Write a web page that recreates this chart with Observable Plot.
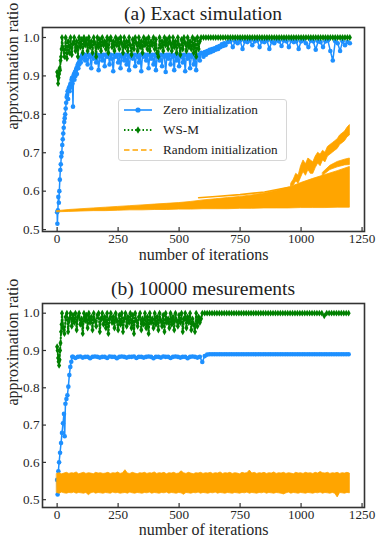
<!DOCTYPE html>
<html><head><meta charset="utf-8">
<script src="https://cdn.jsdelivr.net/npm/d3@7"></script>
<script src="https://cdn.jsdelivr.net/npm/@observablehq/plot@0.6"></script>
<style>
body{margin:0;background:#fff;font-family:"Liberation Serif",serif;}
#wrap{position:relative;width:381px;height:545px;overflow:hidden;background:#fff;}
.title{position:absolute;left:42px;width:322px;text-align:center;font-size:19.5px;color:#222;line-height:1;white-space:nowrap;}
.panel{position:absolute;left:0;}
.legend{position:absolute;left:118px;top:99px;width:167px;height:60px;border:1px solid #d6d6d6;border-radius:3px;background:rgba(255,255,255,0.85);font-size:13.2px;color:#222;}
.legend .row{position:absolute;left:4px;height:14px;display:flex;align-items:center;white-space:nowrap;}
.legend svg{margin-right:10px;}
</style></head><body>
<div id="wrap">
  <div class="title" style="top:4px">(a) Exact simulation</div>
  <div class="panel" id="pa" style="top:26px"></div>
  <div class="title" style="top:279px">(b) 10000 mesurements</div>
  <div class="panel" id="pb" style="top:302px"></div>
  <div class="legend" id="legend"></div>
</div>
<script>
// ---------- labels ----------
const seriesNames = ["Zero initialization", "WS-M", "Random initialization"];
const xTicks = [0, 250, 500, 750, 1000, 1250];
const yTicks = [0.5, 0.6, 0.7, 0.8, 0.9, 1.0];

// ---------- (a) Exact simulation ----------
const zeroA_ramp = [[0,.545],[1,.515],[3,.55],[5,.585],[7,.57],[9,.60],[11,.63],[13,.655],[15,.67],[17,.69],[19,.70],[21,.72],[23,.735],[25,.75],[27,.765],[29,.78],[31,.79],[33,.80],[35,.815],[37,.83],[39,.845],[41,.85],[43,.86],[45,.84],[47,.865],[49,.87],[51,.86],[53,.875],[55,.88],[57,.87],[59,.89],[61,.895],[63,.88],[65,.82],[67,.90],[69,.905],[71,.89],[73,.91],[75,.90],[77,.915],[79,.92],[81,.905],[83,.925],[85,.93],[87,.92],[89,.935],[91,.93],[93,.94],[95,.945],[97,.935],[99,.95],[101,.945],[103,.955]];
const zeroA_flat = [ // iterations 105..590, every 5
 .95,.955,.94,.955,.93,.955,.95,.92,.955,.945,
 .955,.935,.955,.915,.95,.955,.94,.955,.925,.955,
 .95,.955,.93,.955,.945,.912,.955,.95,.955,.935,
 .955,.92,.95,.955,.94,.955,.93,.955,.915,.95,
 .955,.945,.955,.925,.955,.95,.935,.955,.912,.955,
 .95,.955,.94,.955,.92,.955,.945,.955,.93,.955,
 .915,.95,.955,.94,.955,.925,.955,.95,.91,.955,
 .945,.955,.93,.955,.95,.915,.955,.94,.955,.925,
 .955,.95,.935,.955,.912,.955,.945,.955,.92,.95,
 .955,.93,.955,.915,.95,.955,.94,.96];
const zeroA_rise = [.958,.95,.962,.955,.965,.96,.968,.962,.97,.965,.972,.968,.975,.97,.978,.975,.982,.978,.985,.98]; // 595..690, every 5
const zeroA_tail = [ // 700..1200, every 10
 .988,.99,.975,.99,.985,.992,.97,.99,.988,.992,
 .98,.99,.992,.975,.99,.988,.992,.97,.99,.985,
 .992,.99,.978,.992,.99,.975,.992,.988,.99,.97,
 .99,.992,.985,.975,.992,.99,.968,.99,.988,.975,
 .99,.992,.965,.94,.99,.985,.965,.99,.98,.988,.985];

const wsA_ramp = [[0,.91],[2,.90],[4,.88],[6,.895],[8,.905],[10,.92],[12,.915],[14,.94],[16,.95],[18,.97]];
const wsA_osc = [ // 20..590, every 5
 1.0,.97,.95,1.0,.945,.99,.96,1.0,.955,.985,
 1.0,.965,.99,.95,1.0,.975,.995,.96,1.0,.98,
 .995,.965,1.0,.975,.99,.96,1.0,.985,.95,1.0,
 .975,.995,.965,1.0,.98,.99,.97,1.0,.96,.995,
 1.0,.975,.99,.965,1.0,.98,.995,.97,1.0,.985,
 .96,1.0,.975,.99,.965,1.0,.98,.955,.995,.97,
 1.0,.985,.965,1.0,.975,.99,.96,1.0,.98,.995,
 .97,1.0,.965,.99,.98,1.0,.97,.995,.96,.95,
 1.0,.975,.99,.965,1.0,.98,.995,.97,1.0,.985,
 .965,1.0,.975,.99,.96,1.0,.98,.955,.995,.97,
 1.0,.985,.965,1.0,.975,.99,.97,1.0,.96,.995,
 .95,1.0,.97,.99,1.0];
const wsA_tail = [ // 600..1200, every 10
 1,1,1,1,1,1,1,1,1,1, 1,1,1,1,1,1,1,1,1,1, 1,1,1,1,1,1,1,1,1,1,
 1,1,1,1,1,1,1,1,1,1, 1,1,1,1,1,1,1,1,1,1, 1,1,1,1,1,1,1,1,1,1, 1];

const randA_it = [0,50,100,150,200,250,300,350,400,450,500,550,600,650,700,750,800,850,900,950,1000,1050,1100,1150,1200];
const randA_lo = [.545,.546,.547,.548,.548,.549,.55,.55,.551,.551,.552,.552,.553,.553,.553,.554,.554,.555,.555,.555,.556,.556,.556,.557,.557];
const randA_hi = [.548,.551,.553,.555,.557,.559,.561,.563,.565,.567,.569,.572,.576,.579,.582,.585,.589,.594,.601,.609,.621,.632,.642,.652,.663];
const randA_upper_it = [580,650,750,850,950];
const randA_upper = [.583,.586,.591,.598,.61];
const randA_spike_it = [960,970,980,990,1000,1010,1020,1030,1040,1050,1060,1070,1080,1090,1100,1110,1120,1130,1140,1150,1160,1170,1180,1190,1200];
const randA_spike_hi = [.62,.63,.645,.64,.665,.68,.67,.685,.68,.675,.69,.70,.695,.705,.70,.715,.72,.725,.73,.735,.745,.75,.755,.765,.772];
const randA_spike_lo = [.612,.615,.625,.62,.635,.65,.64,.655,.645,.645,.66,.672,.665,.68,.675,.69,.695,.70,.705,.71,.72,.725,.73,.74,.745];
const randA_second_it = [1090,1120,1150,1180,1200];
const randA_second_lo = [.64,.655,.662,.667,.668];
const randA_second_hi = [.648,.666,.676,.682,.685];

// ---------- (b) 10000 measurements ----------
const zeroB_ramp = [[0,.553],[2,.514],[5,.576],[8,.60],[12,.626],[16,.652],[20,.679],[24,.705],[28,.73],[31,.67],[34,.757],[38,.77],[42,.78],[46,.803],[50,.834],[54,.856],[58,.87],[62,.883]];
const zeroB_flat = [ // 65..595, every 10
 .883,.88,.883,.884,.881,.883,.883,.879,.883,.884,
 .883,.881,.883,.883,.88,.884,.883,.883,.879,.883,
 .884,.883,.881,.883,.883,.884,.88,.883,.883,.881,
 .883,.884,.883,.879,.883,.883,.881,.884,.883,.883,
 .88,.883,.884,.883,.881,.883,.883,.879,.883,.884,
 .883,.881,.883,.869];
const zeroB_tail = [ // 605..1195, every 10
 .885,.889,.89,.89,.89,.89,.89,.89,.89,.89,
 .89,.89,.89,.89,.89,.89,.89,.89,.89,.89,
 .89,.89,.89,.89,.89,.89,.89,.89,.89,.89,
 .89,.89,.89,.89,.89,.89,.89,.89,.89,.89,
 .89,.89,.89,.89,.89,.89,.89,.89,.89,.89,
 .89,.89,.89,.89,.89,.89,.89,.89,.89,.89];

const wsB_ramp = [[0,.91],[2,.90],[4,.88],[6,.87],[8,.86],[10,.875],[12,.90],[14,.92],[16,.95],[18,.97]];
const wsB_osc = [ // 20..595, every 5
 1.0,.96,.945,.99,1.0,.95,.985,1.0,.965,.995,
 .975,1.0,.955,.99,1.0,.97,.985,.945,1.0,.98,
 .995,.96,1.0,.975,.99,.955,1.0,.98,.965,.995,
 1.0,.95,.985,1.0,.97,.99,.96,1.0,.945,.985,
 1.0,.975,.99,.96,1.0,.98,.955,.995,.97,1.0,
 .95,.985,1.0,.965,.99,.975,1.0,.96,.995,.945,
 1.0,.98,.965,.99,1.0,.955,.985,.97,1.0,.96,
 .99,.945,1.0,.975,.985,.96,1.0,.97,.99,.955,
 1.0,.98,.965,.995,.95,1.0,.975,.985,.96,1.0,
 .97,.99,.955,1.0,.98,.965,.995,.975,1.0,.95,
 .985,1.0,.96,.99,.975,1.0,.955,.985,.97,.95,
 1.0,.965,.99,.975,.985,1.0];
const wsB_tail = [ // 605..1195, every 10
 1,1,1,1,1,1,1,1,1,1, 1,1,1,1,1,1,1,1,1,1, 1,1,1,1,1,1,1,1,1,1,
 1,1,1,1,1,1,1,1,1,1, 1,1,1,1,1,1,1,1,1,.993, 1,1,1,1,1,1,1,1,1,1];

const randB_it = [0,10,20,30,40,50,60,70,80,90,100,110,120,130,140,150,160,170,180,190,200,210,220,230,240,250,260,270,280,290,300,310,320,330,340,350,360,370,380,390,400,410,420,430,440,450,460,470,480,490,500,510,520,530,540,550,560,570,580,590,600,610,620,630,640,650,660,670,680,690,700,710,720,730,740,750,760,770,780,790,800,810,820,830,840,850,860,870,880,890,900,910,920,930,940,950,960,970,980,990,1000,1010,1020,1030,1040,1050,1060,1070,1080,1090,1100,1110,1120,1130,1140,1150,1160,1170,1180,1190,1200];
const randB_hi = [
 .569,.571,.568,.57,.572,.569,.571,.57,.573,.568, .57,.572,.569,.571,.57,.568,.572,.57,.571,.569,
 .57,.572,.569,.571,.57,.573,.569,.571,.579,.57, .569,.572,.57,.568,.571,.57,.572,.569,.571,.57,
 .573,.569,.571,.57,.572,.568,.571,.57,.572,.569, .57,.576,.571,.569,.572,.57,.568,.571,.57,.572,
 .569,.571,.57,.572,.569,.571,.57,.573,.569,.571, .57,.572,.569,.571,.57,.568,.572,.57,.571,.578,
 .57,.572,.569,.571,.57,.572,.569,.571,.57,.573, .569,.571,.57,.572,.569,.571,.57,.568,.572,.57,
 .571,.569,.572,.57,.571,.569,.572,.57,.574,.571, .57,.572,.569,.571,.57,.572,.569,.571,.57,.572,.57];
const randB_lo = [
 .518,.516,.519,.517,.516,.518,.517,.519,.516,.518, .517,.516,.518,.512,.517,.519,.516,.518,.517,.516,
 .518,.517,.516,.519,.517,.518,.516,.517,.518,.516, .519,.517,.516,.518,.517,.516,.518,.517,.519,.516,
 .518,.517,.516,.518,.517,.519,.516,.518,.517,.516, .518,.517,.513,.518,.517,.516,.518,.517,.519,.516,
 .518,.517,.516,.518,.517,.519,.516,.518,.517,.516, .518,.517,.516,.518,.517,.516,.518,.517,.519,.516,
 .518,.517,.516,.518,.517,.519,.516,.518,.517,.516, .518,.517,.516,.514,.517,.519,.516,.518,.517,.516,
 .518,.517,.516,.518,.517,.516,.518,.517,.519,.516, .518,.517,.516,.518,.516,.506,.518,.517,.516,.518,.517];

// ---------- build tables ----------
const BLUE = "#1e90ff", GREEN = "#008000", ORANGE = "#ffa500", INK = "#262626";
const FONT = "'Liberation Serif',serif";
const pairs = list => list.map(([it, v]) => ({it, v}));
const run = (start, step, vals) => vals.map((v, i) => ({it: start + i * step, v}));
const band = (its, lo, hi) => its.map((it, i) => ({it, lo: lo[i], hi: hi[i]}));

const zeroA = [...pairs(zeroA_ramp), ...run(105, 5, zeroA_flat), ...run(595, 5, zeroA_rise), ...run(700, 10, zeroA_tail)];
const wsA = [...pairs(wsA_ramp), ...run(20, 5, wsA_osc), ...run(600, 10, wsA_tail)];
const zeroB = [...pairs(zeroB_ramp), ...run(65, 10, zeroB_flat), ...run(605, 10, zeroB_tail)];
const wsB = [...pairs(wsB_ramp), ...run(20, 5, wsB_osc), ...run(605, 10, wsB_tail)];

const thinDiamond = {draw(ctx, size) { const h = Math.sqrt(size) * 0.8, w = h * 0.6;
  ctx.moveTo(0, -h); ctx.lineTo(w, 0); ctx.lineTo(0, h); ctx.lineTo(-w, 0); ctx.closePath(); }};

function panel({zero, ws, bands, lines, yDomain, xLabelDy}) {
  return Plot.plot({
    width: 381, height: 242,
    marginLeft: 42, marginRight: 17, marginTop: 1, marginBottom: 37,
    style: {fontFamily: FONT, fontSize: "13.2px", color: INK, background: "transparent", overflow: "visible"},
    x: {domain: [-60, 1260], ticks: xTicks},
    y: {domain: yDomain, ticks: yTicks},
    marks: [
      Plot.line(zero, {x: "it", y: "v", stroke: BLUE, strokeWidth: 1.5}),
      Plot.dot(zero, {x: "it", y: "v", r: 2.3, fill: BLUE, stroke: "none"}),
      Plot.line(ws, {x: "it", y: "v", stroke: GREEN, strokeWidth: 2, strokeDasharray: "1.5,2"}),
      Plot.dot(ws, {x: "it", y: "v", r: 2.4, symbol: thinDiamond, fill: GREEN, stroke: "none"}),
      ...bands.map(b => Plot.areaY(b, {x: "it", y1: "lo", y2: "hi", fill: ORANGE, stroke: ORANGE, strokeWidth: 0.8})),
      ...lines.map(l => Plot.line(l, {x: "it", y: "v", stroke: ORANGE, strokeWidth: 1.6})),
      Plot.frame({stroke: "#333", strokeWidth: 1.6}),
      Plot.axisX({ticks: xTicks, tickSize: -4, tickPadding: 6, tickFormat: "d", label: null, stroke: "#333", strokeWidth: 1.2}),
      Plot.axisY({ticks: yTicks, tickSize: -4, tickPadding: 7, tickFormat: ".1f", label: null, stroke: "#333", strokeWidth: 1.2}),
      Plot.text(["number of iterations"], {frameAnchor: "bottom", dy: xLabelDy, fontSize: 16, fill: INK}),
      Plot.text(["approximation ratio"], {frameAnchor: "left", dx: -30, rotate: -90, fontSize: 16, fill: INK})
    ]
  });
}

document.getElementById("pa").append(panel({
  zero: zeroA, ws: wsA,
  bands: [band(randA_it, randA_lo, randA_hi), band(randA_spike_it, randA_spike_lo, randA_spike_hi), band(randA_second_it, randA_second_lo, randA_second_hi)],
  lines: [randA_upper_it.map((it, i) => ({it, v: randA_upper[i]}))],
  yDomain: [0.495, 1.026], xLabelDy: 28
}));
document.getElementById("pb").append(panel({
  zero: zeroB, ws: wsB,
  bands: [band(randB_it, randB_lo, randB_hi)],
  lines: [],
  yDomain: [0.479, 1.026], xLabelDy: 27.5
}));

// ---------- legend ----------
const legend = document.getElementById("legend");
const sw = [
  `<svg width="30" height="10"><line x1="1" y1="5" x2="29" y2="5" stroke="${BLUE}" stroke-width="1.6"/><circle cx="15" cy="5" r="2.6" fill="${BLUE}"/></svg>`,
  `<svg width="30" height="10"><line x1="1" y1="5" x2="29" y2="5" stroke="${GREEN}" stroke-width="2" stroke-dasharray="1.5,2.2"/><path d="M15,1.2L17.3,5L15,8.8L12.7,5Z" fill="${GREEN}"/></svg>`,
  `<svg width="30" height="10"><line x1="1" y1="5" x2="29" y2="5" stroke="${ORANGE}" stroke-width="1.6" stroke-dasharray="5.5,3"/></svg>`
];
seriesNames.forEach((name, i) => {
  const row = document.createElement("div");
  row.className = "row";
  row.style.top = (3 + i * 20) + "px";
  row.innerHTML = sw[i] + `<span>${name}</span>`;
  legend.append(row);
});
</script>
</body></html>
